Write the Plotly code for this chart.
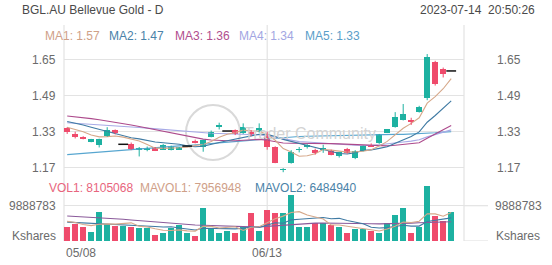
import plotly.graph_objects as go

dates = ["05/08","05/09","05/10","05/11","05/12","05/15","05/16","05/17","05/18","05/19",
         "05/22","05/23","05/24","05/25","05/26","05/29","05/30","05/31","06/01","06/02",
         "06/05","06/06","06/07","06/08","06/09","06/13","06/14","06/15","06/16","06/19",
         "06/20","06/21","06/22","06/23","06/26","06/27","06/28","06/29","06/30","07/03",
         "07/04","07/05","07/06","07/07","07/10","07/11","07/12","07/13","07/14"]

opens = [1.345,1.32,1.306,1.286,1.271,1.311,1.337,1.274,1.277,1.249,
         1.252,1.26,1.249,1.249,1.249,1.266,1.29,1.263,1.308,1.352,
         1.333,1.337,1.323,1.33,1.33,1.32,1.263,1.16,1.19,1.25,
         1.262,1.249,1.252,1.245,1.22,1.252,1.212,1.245,1.272,1.278,
         1.326,1.35,1.382,1.382,1.419,1.478,1.64,1.607,1.60]
highs = [1.35,1.33,1.31,1.298,1.299,1.35,1.34,1.274,1.282,1.262,
         1.264,1.262,1.275,1.268,1.262,1.266,1.295,1.295,1.335,1.37,
         1.333,1.34,1.367,1.337,1.367,1.33,1.265,1.168,1.248,1.262,
         1.275,1.255,1.272,1.25,1.24,1.258,1.248,1.268,1.278,1.32,
         1.342,1.417,1.453,1.392,1.445,1.675,1.645,1.615,1.60]
lows = [1.32,1.30,1.296,1.283,1.26,1.308,1.318,1.274,1.248,1.22,
        1.243,1.244,1.249,1.247,1.249,1.266,1.278,1.241,1.305,1.34,
        1.333,1.315,1.32,1.31,1.326,1.25,1.19,1.15,1.188,1.238,
        1.255,1.228,1.236,1.225,1.215,1.232,1.208,1.243,1.262,1.276,
        1.324,1.348,1.38,1.36,1.415,1.47,1.535,1.571,1.60]
closes = [1.33,1.308,1.30,1.296,1.299,1.337,1.323,1.274,1.254,1.256,
          1.258,1.244,1.27,1.265,1.26,1.266,1.282,1.293,1.33,1.356,
          1.333,1.318,1.35,1.315,1.345,1.26,1.19,1.163,1.241,1.253,
          1.27,1.235,1.256,1.228,1.238,1.236,1.245,1.266,1.266,1.318,
          1.34,1.394,1.409,1.376,1.441,1.663,1.542,1.585,1.60]

volumes = [4000000,4760000,3830000,2600000,8200000,4670000,4300000,4300000,4000000,3550000,
           3550000,1680000,2330000,3550000,4480000,2150000,1400000,9200000,3270000,2330000,
           2900000,2330000,4000000,7760000,2900000,8680000,7760000,7760000,12900000,4000000,
           4000000,4960000,4960000,4480000,4000000,2330000,3270000,3400000,2900000,2200000,
           4960000,7280000,9160000,2330000,4000000,15500000,7100000,5700000,8105068]

ma1 = [1.35,1.34,1.33,1.315,1.307,1.308,1.311,1.306,1.297,1.289,
       1.273,1.257,1.256,1.259,1.259,1.261,1.269,1.273,1.286,1.305,
       1.319,1.326,1.337,1.334,1.332,1.318,1.292,1.255,1.240,1.221,
       1.223,1.232,1.251,1.248,1.245,1.239,1.241,1.243,1.250,1.266,
       1.287,1.317,1.345,1.367,1.392,1.457,1.486,1.521,1.566]
ma2 = [1.375,1.368,1.36,1.35,1.34,1.33,1.32,1.31,1.303,1.298,
       1.291,1.284,1.281,1.278,1.274,1.267,1.263,1.265,1.272,1.282,
       1.290,1.297,1.305,1.310,1.319,1.318,1.309,1.296,1.287,1.277,
       1.271,1.262,1.253,1.244,1.233,1.231,1.237,1.247,1.249,1.256,
       1.263,1.279,1.294,1.309,1.329,1.372,1.402,1.433,1.467]
ma3 = [1.40,1.397,1.393,1.388,1.383,1.378,1.372,1.366,1.36,1.353,
       1.346,1.338,1.33,1.322,1.315,1.308,1.302,1.297,1.293,1.290,
       1.290,1.290,1.293,1.294,1.296,1.292,1.286,1.280,1.279,1.279,
       1.280,1.279,1.279,1.277,1.276,1.274,1.273,1.271,1.268,1.266,
       1.267,1.270,1.273,1.276,1.281,1.301,1.319,1.340,1.358]
ma4 = [1.37,1.368,1.366,1.364,1.362,1.36,1.358,1.355,1.352,1.349,
       1.346,1.343,1.34,1.336,1.333,1.33,1.327,1.325,1.323,1.322,
       1.321,1.32,1.319,1.318,1.316,1.312,1.305,1.298,1.291,1.286,
       1.284,1.281,1.280,1.277,1.275,1.272,1.270,1.269,1.269,1.272,
       1.275,1.279,1.284,1.288,1.294,1.307,1.317,1.327,1.338]
ma5 = [1.228,1.231,1.234,1.236,1.239,1.242,1.245,1.247,1.250,1.253,
       1.256,1.258,1.261,1.264,1.267,1.269,1.272,1.275,1.278,1.281,
       1.284,1.287,1.290,1.293,1.296,1.30,1.302,1.305,1.307,1.309,
       1.31,1.311,1.312,1.313,1.314,1.315,1.315,1.316,1.316,1.317,
       1.317,1.318,1.318,1.319,1.320,1.322,1.325,1.328,1.33]

mavol1 = [5.5,5.2,4.6,4.3,4.68,4.81,4.72,4.81,5.09,4.16,
          3.94,3.42,3.02,2.93,3.12,2.84,2.78,4.15,4.09,3.66,
          3.81,4.0,2.97,3.86,3.98,5.13,6.22,6.97,8.0,8.22,
          7.28,6.72,6.16,4.48,4.48,4.15,3.81,3.5,3.18,2.82,
          3.35,4.15,5.3,5.19,5.55,7.65,7.6,6.95,7.956948]
mavol2 = [5.3,5.2,5.0,4.9,4.9,4.8,4.7,4.6,4.5,4.42,
          4.38,4.07,3.92,4.01,3.64,3.39,3.10,3.59,3.51,3.39,
          3.33,3.39,3.56,3.98,3.82,4.47,5.11,4.97,5.93,6.10,
          6.21,6.47,6.57,6.24,6.35,5.72,5.27,4.83,3.83,3.65,
          3.75,3.98,4.40,4.18,4.18,5.47,5.87,6.15,6.48494]
mavol3 = [7.0,6.9,6.8,6.7,6.6,6.5,6.3,6.1,5.9,5.7,
          5.5,5.3,5.1,4.95,4.8,4.65,4.5,4.4,4.3,4.2,
          4.1,4.0,3.95,3.95,3.95,4.1,4.3,4.5,4.7,4.8,
          4.9,5.0,5.05,5.05,5.05,5.0,4.95,4.9,4.85,4.8,
          4.8,4.9,5.0,5.0,5.1,5.2,5.3,5.35,5.4]

price_ticks = [1.65, 1.49, 1.33, 1.17]
vol_tick = 9888783
x_ticks = ["05/08", "06/13"]

UP = "#1db1a1"
DN = "#ef4b6c"
GRID = "#e3e3e3"
TXT = "#6b6b6b"
FONT = "Liberation Sans, Arial, sans-serif"

W, H = 552, 265
L, R, T, B = 64, 88, 25, 24
PW, PH = W - L - R, H - T - B

def px(xp):
    return (xp - L) / PW

def py(yp):
    return (H - B - yp) / PH

fig = go.Figure()

# moving averages (under candles)
ma_colors = ["#d6a88a", "#3f7aa3", "#ad4a8c", "#a7aae6", "#57a6d0"]
for arr, col in zip([ma5, ma4, ma3, ma2, ma1], ma_colors[::-1]):
    fig.add_trace(go.Scatter(x=dates, y=arr, mode="lines", line=dict(color=col, width=1.1),
                             hoverinfo="skip", yaxis="y"))

up_i = [i for i in range(len(dates)) if closes[i] > opens[i]]
dn_i = [i for i in range(len(dates)) if closes[i] < opens[i]]
dj_i = [i for i in range(len(dates)) if closes[i] == opens[i]]

def wicks(idx):
    xs, ys = [], []
    for i in idx:
        xs += [dates[i], dates[i], None]
        ys += [lows[i], highs[i], None]
    return xs, ys

for idx, col in [(up_i, UP), (dn_i, DN)]:
    wx, wy = wicks(idx)
    fig.add_trace(go.Scatter(x=wx, y=wy, mode="lines", line=dict(color=col, width=1),
                             hoverinfo="skip", yaxis="y"))
    fig.add_trace(go.Bar(x=[dates[i] for i in idx],
                         y=[max(abs(closes[i] - opens[i]), 0.003) for i in idx],
                         base=[min(opens[i], closes[i]) for i in idx],
                         marker=dict(color=col, line=dict(width=0)), width=0.72,
                         hoverinfo="skip", yaxis="y"))

fig.add_trace(go.Scatter(x=[dates[i] for i in dj_i], y=[closes[i] for i in dj_i], mode="markers",
                         marker=dict(symbol="line-ew", size=7, line=dict(color="#111", width=1.5)),
                         hoverinfo="skip", yaxis="y"))

# volume
vcol = [UP if closes[i] >= opens[i] else DN for i in range(len(dates))]
fig.add_trace(go.Bar(x=dates, y=volumes, marker=dict(color=vcol, line=dict(width=0)), width=0.72,
                     hoverinfo="skip", yaxis="y2"))
for arr, col in [(mavol3, "#8a5a9a"), (mavol2, "#3f7aa3"), (mavol1, "#d6a88a")]:
    fig.add_trace(go.Scatter(x=dates, y=[v * 1e6 for v in arr], mode="lines",
                             line=dict(color=col, width=1.1), hoverinfo="skip", yaxis="y2"))

p_top = 1.33 + (131.7 - T) / 225
p_bot = 1.33 - (180 - 131.7) / 225
v_top = vol_tick * (241 - 183) / (241 - 205.7)

fig.update_layout(
    width=W, height=H, margin=dict(l=L, r=R, t=T, b=B),
    paper_bgcolor="white", plot_bgcolor="white", showlegend=False, bargap=0,
    barmode="overlay",
    font=dict(family=FONT, size=12, color=TXT),
    xaxis=dict(type="category", categoryorder="array", categoryarray=dates,
               range=[-0.4, len(dates) + 0.6], showgrid=False, showticklabels=False,
               zeroline=False, showline=False, anchor="y2"),
    yaxis=dict(domain=[py(180), 1], range=[p_bot, p_top], tickvals=price_ticks,
               showticklabels=False, gridcolor=GRID, gridwidth=1.2, zeroline=False, showline=False),
    yaxis2=dict(domain=[0, py(183)], range=[0, v_top], tickvals=[0, vol_tick],
                showticklabels=False, gridcolor=GRID, gridwidth=1.2, zeroline=False, showline=False),
)

shapes = []
for xp in [0, 1]:
    shapes.append(dict(type="line", xref="paper", yref="paper", x0=xp, x1=xp, y0=0, y1=1,
                       line=dict(color=GRID, width=1.2), layer="below"))
shapes.append(dict(type="line", xref="x", yref="paper", x0="06/13", x1="06/13", y0=0, y1=1,
                   line=dict(color=GRID, width=1.2), layer="below"))
for yv in [0, vol_tick]:
    shapes.append(dict(type="line", xref="paper", yref="y2", x0=1, x1=px(488), y0=yv, y1=yv,
                       line=dict(color=GRID, width=1.2), layer="below"))
# watermark
shapes.append(dict(type="circle", xref="paper", yref="paper", x0=px(186), x1=px(240),
                   y0=py(160), y1=py(105), line=dict(color="#d9d9d9", width=2), layer="below"))
fig.update_layout(shapes=shapes)

ann = []
def a(text, x, y, xanchor="left", color=TXT, size=12, xref="paper", yref="paper", xshift=0):
    ann.append(dict(text=text, x=x, y=y, xref=xref, yref=yref, xanchor=xanchor, yanchor="middle",
                    showarrow=False, xshift=xshift, font=dict(family=FONT, size=size, color=color)))

a("BGL.AU Bellevue Gold - D", px(20), py(10), color="#4a4a4a")
a("2023-07-14&nbsp;&nbsp;20:50:26", px(537), py(10), xanchor="right", color="#4a4a4a")

ma_vals = [ma1[-1], ma2[-1], ma3[-1], ma4[-1], ma5[-1]]
ma_x = [43, 107, 173, 237, 303]
ma_txt_col = ["#cfa088", "#4a82a8", "#b04e8e", "#a2a6e2", "#5a9ec9"]
for k in range(5):
    a(f"MA{k+1}: {ma_vals[k]:.2f}", px(ma_x[k]), py(36), color=ma_txt_col[k])

a(f"VOL1: {volumes[-1]}", px(47), py(188), color="#e8657d")
a(f"MAVOL1: {round(mavol1[-1]*1e6)}", px(138), py(188), color="#cfa088")
a(f"MAVOL2: {round(mavol2[-1]*1e6)}", px(253), py(188), color="#4a82a8")

for t in price_ticks:
    a(f"{t:.2f}", 0, t, xanchor="right", yref="y", xshift=-6)
    a(f"{t:.2f}", 1, t, xanchor="left", yref="y", xshift=31)
a(str(vol_tick), 0, vol_tick, xanchor="right", yref="y2", xshift=-6)
a(str(vol_tick), 1, vol_tick, xanchor="left", yref="y2", xshift=29)
a("Kshares", 0, py(236), xanchor="right", xshift=-6)
a("Kshares", 1, py(236), xanchor="left", xshift=30)

a(x_ticks[0], 0, py(253), xanchor="left")
ann.append(dict(text=x_ticks[1], x=x_ticks[1], y=py(253), xref="x", yref="paper", xanchor="center",
                yanchor="middle", showarrow=False, font=dict(family=FONT, size=12, color=TXT)))

a("Trader Community", px(242), py(133), color="#d3d3d3", size=16)

fig.update_layout(annotations=ann)
fig.write_html("out.html")
